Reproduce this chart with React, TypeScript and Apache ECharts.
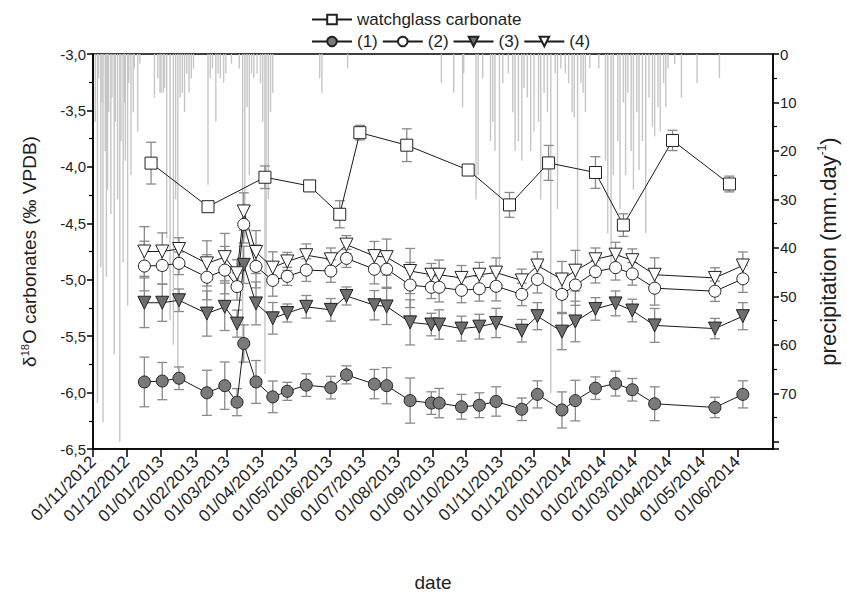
import React, { useEffect, useRef } from 'react';
import * as echarts from 'echarts';

// ---------- data ----------
const monthTicks = [
  '2012-11-01', '2012-12-01', '2013-01-01', '2013-02-01', '2013-03-01', '2013-04-01',
  '2013-05-01', '2013-06-01', '2013-07-01', '2013-08-01', '2013-09-01', '2013-10-01',
  '2013-11-01', '2013-12-01', '2014-01-01', '2014-02-01', '2014-03-01', '2014-04-01',
  '2014-05-01', '2014-06-01',
];

const sampleDates = [
  '2012-12-17', '2013-01-02', '2013-01-17', '2013-02-11', '2013-02-27', '2013-03-10',
  '2013-03-16', '2013-03-27', '2013-04-11', '2013-04-24', '2013-05-11', '2013-06-02',
  '2013-06-16', '2013-07-11', '2013-07-22', '2013-08-12', '2013-08-31', '2013-09-07',
  '2013-09-27', '2013-10-13', '2013-10-28', '2013-11-20', '2013-12-04', '2013-12-26',
  '2014-01-07', '2014-01-25', '2014-02-12', '2014-02-27', '2014-03-19', '2014-05-12',
  '2014-06-06',
];
const series1 = [
  -5.906, -5.898, -5.873, -6.002, -5.939, -6.085, -5.565, -5.906, -6.038, -5.989, -5.934,
  -5.956, -5.843, -5.925, -5.939, -6.071, -6.093, -6.093, -6.126, -6.112, -6.079, -6.148,
  -6.016, -6.154, -6.071, -5.961, -5.92, -5.975, -6.099, -6.132, -6.016,
];
const series2 = [
  -4.879, -4.874, -4.855, -4.978, -4.915, -5.061, -4.51, -4.882, -5.006, -4.97, -4.915,
  -4.923, -4.811, -4.907, -4.907, -5.047, -5.067, -5.067, -5.094, -5.08, -5.058, -5.13,
  -4.998, -5.13, -5.047, -4.929, -4.893, -4.948, -5.075, -5.102, -4.992,
];
const series3 = [
  -5.204, -5.204, -5.182, -5.3, -5.24, -5.389, -4.868, -5.21, -5.342, -5.295, -5.24,
  -5.267, -5.144, -5.226, -5.237, -5.378, -5.397, -5.397, -5.433, -5.416, -5.383, -5.452,
  -5.323, -5.46, -5.37, -5.259, -5.21, -5.273, -5.405, -5.433, -5.323,
];
const series4 = [
  -4.75, -4.75, -4.728, -4.855, -4.8, -4.943, -4.395, -4.755, -4.893, -4.838, -4.783,
  -4.819, -4.689, -4.791, -4.8, -4.923, -4.956, -4.956, -4.984, -4.956, -4.937, -5.006,
  -4.874, -4.998, -4.92, -4.819, -4.778, -4.827, -4.956, -4.984, -4.874,
];
const sampleErr = [
  0.22, 0.165, 0.1, 0.2, 0.21, 0.12, 0.165, 0.19, 0.14, 0.08, 0.1, 0.1, 0.08, 0.13, 0.16,
  0.2, 0.1, 0.13, 0.11, 0.11, 0.13, 0.1, 0.12, 0.16, 0.18, 0.1, 0.11, 0.1, 0.15, 0.09, 0.12,
];

const glassDates = [
  '2012-12-23', '2013-02-12', '2013-04-04', '2013-05-14', '2013-06-10', '2013-06-28',
  '2013-08-09', '2013-10-03', '2013-11-09', '2013-12-14', '2014-01-25', '2014-02-19',
  '2014-04-04', '2014-05-25',
];
const glassValues = [
  -3.967, -4.353, -4.092, -4.169, -4.42, -3.697, -3.808, -4.028, -4.337, -3.965, -4.05,
  -4.516, -3.766, -4.152,
];
const glassErr = [0.185, 0.02, 0.1, 0.04, 0.12, 0.065, 0.145, 0.03, 0.11, 0.155, 0.14, 0.1, 0.09, 0.07];

// daily precipitation: day number counted from 2012-11-01, and mm/day
const precipStart = '2012-11-01';
const precipDay = [
  2, 4, 5, 7, 8, 9, 11, 12, 13, 14, 16, 17, 19, 20, 22, 24, 25, 27, 28, 29,
  31, 32, 34, 36, 37, 40, 42, 55, 58, 60,
  61, 63, 64, 66, 69, 72, 74, 76, 78, 80, 82, 84, 86, 88, 90,
  103, 105, 107, 110, 112, 114, 117, 119,
  124, 131, 134, 136, 138, 140, 142, 144, 147, 150,
  152, 154, 155, 157, 159, 161,
  203, 205, 228,
  312, 323, 331, 332, 343, 345, 349, 356, 358, 360, 364, 367, 372, 376, 378, 381, 384, 386,
  389, 392, 395, 399, 401, 404, 407, 410, 414, 416, 419, 423, 426, 429, 431, 434, 437, 439,
  441, 445, 453, 459, 461, 464, 466, 470, 472, 475, 477, 479, 482, 484, 487, 489, 492, 495,
  498, 501, 503, 506, 508, 511, 513, 515, 521, 527, 541, 561,
];
const precipMm = [
  14, 72, 5, 44, 10, 76, 20, 46, 28, 12, 33, 9, 62, 14, 30, 80, 18, 43, 10, 22,
  52, 6, 25, 12, 3, 16, 2, 9, 5, 8,
  8, 8, 7, 38, 55, 60, 30, 65, 9, 8, 12, 4, 8, 5, 3,
  27, 5, 3, 14, 4, 5, 6, 4,
  2, 3, 64, 38, 11, 25, 4, 5, 4, 6,
  14, 66, 48, 30, 12, 8,
  5, 8, 3,
  6, 8, 11, 4, 30, 25, 5, 18, 14, 20, 45, 6, 4, 12, 20, 18, 22, 7,
  9, 20, 16, 14, 30, 8, 12, 70, 4, 32, 3, 4, 6, 12, 13, 44, 6, 8,
  12, 3, 3, 22, 37, 45, 25, 18, 32, 10, 25, 8, 20, 28, 12, 24, 18, 37,
  9, 15, 17, 11, 16, 6, 11, 3, 2, 9, 6, 5,
];

const axisStart = '2012-11-01';
const axisEnd = '2014-07-03';

// ---------- helpers ----------
function toTime(s: string, addDays = 0): number {
  const [y, m, d] = s.split('-').map(Number);
  return new Date(y, m - 1, d + addDays).getTime();
}
function fmtDate(v: number): string {
  const d = new Date(v);
  const dd = String(d.getDate()).padStart(2, '0');
  const mm = String(d.getMonth() + 1).padStart(2, '0');
  return `${dd}/${mm}/${d.getFullYear()}`;
}

const FONT = 'Liberation Sans, Arial, sans-serif';
const ERR_COLOR = '#8a8a8a';
const LINE_COLOR = '#1a1a1a';
const TEXT = '#1e1e1e';

function errorSeries(dates: string[], vals: number[], errs: number[]) {
  return {
    type: 'custom',
    xAxisIndex: 0,
    yAxisIndex: 0,
    silent: true,
    z: 2,
    encode: { x: 0, y: [1, 2] },
    data: dates.map((d, i) => [toTime(d), vals[i] - errs[i], vals[i] + errs[i]]),
    renderItem: (params: any, api: any) => {
      const x = api.value(0);
      const lo = api.coord([x, api.value(1)]);
      const hi = api.coord([x, api.value(2)]);
      const hw = 5;
      const st = { stroke: ERR_COLOR, lineWidth: 1.3 };
      return {
        type: 'group',
        children: [
          { type: 'line', shape: { x1: lo[0], y1: lo[1], x2: hi[0], y2: hi[1] }, style: st },
          { type: 'line', shape: { x1: lo[0] - hw, y1: lo[1], x2: lo[0] + hw, y2: lo[1] }, style: st },
          { type: 'line', shape: { x1: hi[0] - hw, y1: hi[1], x2: hi[0] + hw, y2: hi[1] }, style: st },
        ],
      };
    },
  };
}

function lineSeries(name: string, dates: string[], vals: number[], symbol: string, fill: string, rotate = 0, size = 12) {
  return {
    name,
    type: 'line',
    xAxisIndex: 0,
    yAxisIndex: 0,
    z: 3,
    data: dates.map((d, i) => [toTime(d), vals[i]]),
    symbol,
    symbolSize: size,
    symbolRotate: rotate,
    showAllSymbol: true,
    lineStyle: { color: LINE_COLOR, width: 1 },
    itemStyle: { color: fill, borderColor: '#222', borderWidth: 1 },
  };
}

const legendText = { fontSize: 17, color: TEXT, fontFamily: FONT };

const option: any = {
  animation: false,
  textStyle: { fontFamily: FONT },
  grid: {
    left: 93,
    right: 44,
    top: 54,
    bottom: 149,
    show: true,
    borderColor: '#000',
    borderWidth: 1.5,
    backgroundColor: 'transparent',
  },
  legend: [
    {
      data: ['watchglass carbonate'],
      left: 306,
      top: 6,
      itemWidth: 40,
      itemHeight: 12,
      itemGap: 8,
      textStyle: legendText,
    },
    {
      data: ['(1)', '(2)', '(3)', '(4)'],
      left: 306,
      top: 28,
      itemWidth: 40,
      itemHeight: 12,
      itemGap: 4,
      textStyle: legendText,
    },
  ],
  xAxis: {
    type: 'value',
    min: toTime(axisStart),
    max: toTime(axisEnd),
    splitLine: { show: false },
    axisLine: { show: true, onZero: false, lineStyle: { color: '#000', width: 1.5 } },
    axisTick: {
      show: true,
      length: 8,
      customValues: monthTicks.map((t) => toTime(t)),
      lineStyle: { color: '#000', width: 1.5 },
    },
    axisLabel: {
      customValues: monthTicks.map((t) => toTime(t)),
      rotate: 45,
      fontSize: 17,
      color: TEXT,
      margin: 10,
      formatter: (v: number) => fmtDate(v),
    },
    name: 'date',
    nameLocation: 'middle',
    nameGap: 124,
    nameTextStyle: { fontSize: 19, color: TEXT },
  },
  yAxis: [
    {
      type: 'value',
      position: 'left',
      min: -6.5,
      max: -3,
      interval: 0.5,
      splitLine: { show: false },
      axisLine: { show: true, lineStyle: { color: '#000', width: 1.5 } },
      axisTick: { show: true, length: 6, lineStyle: { color: '#000', width: 1.5 } },
      minorTick: { show: true, splitNumber: 2, length: 4, lineStyle: { color: '#000', width: 1.2 } },
      axisLabel: {
        fontSize: 15,
        color: TEXT,
        margin: 7,
        formatter: (v: number) => v.toFixed(1).replace('.', ','),
      },
      name: '{a|δ}{s|18}{a|O carbonates (‰ VPDB)}',
      nameLocation: 'middle',
      nameRotate: 90,
      nameGap: 53,
      nameTextStyle: {
        fontSize: 19,
        color: TEXT,
        rich: {
          a: { fontSize: 19, color: TEXT, fontFamily: FONT },
          s: { fontSize: 11, color: TEXT, fontFamily: FONT, padding: [0, 0, 10, 0] },
        },
      },
    },
    {
      type: 'value',
      position: 'right',
      inverse: true,
      min: 0,
      max: 81.5,
      interval: 10,
      splitLine: { show: false },
      axisLine: { show: true, lineStyle: { color: '#000', width: 1.5 } },
      axisTick: { show: true, length: 6, lineStyle: { color: '#000', width: 1.5 } },
      minorTick: { show: true, splitNumber: 2, length: 4, lineStyle: { color: '#000', width: 1.2 } },
      axisLabel: {
        fontSize: 15,
        color: TEXT,
        margin: 7,
        showMaxLabel: false,
        formatter: (v: number) => (v <= 70 ? String(v) : ''),
      },
      name: '{a|precipitation (mm.day}{s|-1}{a|)}',
      nameLocation: 'middle',
      nameRotate: 90,
      nameGap: 43,
      nameTextStyle: {
        fontSize: 22,
        color: TEXT,
        rich: {
          a: { fontSize: 22, color: TEXT, fontFamily: FONT },
          s: { fontSize: 12, color: TEXT, fontFamily: FONT, padding: [0, 0, 12, 0] },
        },
      },
    },
  ],
  series: [
    {
      type: 'custom',
      name: 'precipitation',
      xAxisIndex: 0,
      yAxisIndex: 1,
      silent: true,
      z: 1,
      encode: { x: 0, y: 1 },
      data: precipDay.map((d, i) => [toTime(precipStart, d), precipMm[i]]),
      renderItem: (params: any, api: any) => {
        const x = api.value(0);
        const p0 = api.coord([x, 0]);
        const p1 = api.coord([x, api.value(1)]);
        return {
          type: 'line',
          shape: { x1: p0[0], y1: p0[1], x2: p1[0], y2: p1[1] },
          style: { stroke: '#c6c6c6', lineWidth: 1.4 },
        };
      },
    },
    errorSeries(glassDates, glassValues, glassErr),
    errorSeries(sampleDates, series1, sampleErr),
    errorSeries(sampleDates, series2, sampleErr),
    errorSeries(sampleDates, series3, sampleErr),
    errorSeries(sampleDates, series4, sampleErr),
    lineSeries('watchglass carbonate', glassDates, glassValues, 'rect', '#ffffff', 0, 12),
    lineSeries('(1)', sampleDates, series1, 'circle', '#7a7a7a'),
    lineSeries('(2)', sampleDates, series2, 'circle', '#ffffff'),
    lineSeries('(3)', sampleDates, series3, 'triangle', '#6e6e6e', 180, 13),
    lineSeries('(4)', sampleDates, series4, 'triangle', '#ffffff', 180, 13),
  ],
};

export default function App() {
  const ref = useRef<HTMLDivElement>(null);
  useEffect(() => {
    document.body.style.margin = '0';
    const chart = echarts.init(ref.current as HTMLDivElement, null, { renderer: 'svg' });
    chart.setOption(option);
    return () => chart.dispose();
  }, []);
  return <div ref={ref} style={{ width: 847, height: 598 }} />;
}
